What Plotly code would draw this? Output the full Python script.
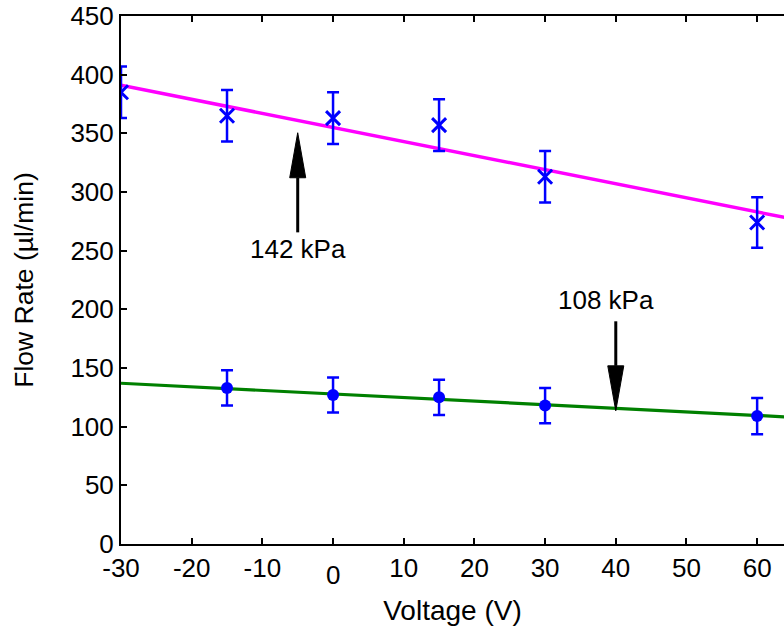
import plotly.graph_objects as go

# Measured flow rates at 142 kPa (crosses) and 108 kPa (dots)
voltage_high = [-30, -15, 0, 15, 30, 60]
flow_high = [385, 365, 363, 357, 313, 274]
err_high = [22, 22, 22, 22, 22, 21.5]

voltage_low = [-15, 0, 15, 30, 60]
flow_low = [133, 127, 125, 118, 109]
err_low = [15, 15, 15, 15, 15.5]

# Linear trend lines
fit_x = [-30, 70]
fit_high = [391, 271]
fit_low = [137, 106.5]

# Pressure callouts: arrow tip / tail and label
arrow_x = [-5, 40]
arrow_tip = [350.5, 113.5]
arrow_tail = [265.6, 189.8]
arrow_text = ["142 kPa", "108 kPa"]

x_ticks = [-30, -20, -10, 0, 10, 20, 30, 40, 50, 60]
y_ticks = [0, 50, 100, 150, 200, 250, 300, 350, 400, 450]

W, H = 784, 629
M = dict(l=121, r=0, t=16, b=85)
X_RANGE = [-30, 63.8]
Y_RANGE = [0, 450]
FONT = "Liberation Sans, Arial, sans-serif"

px_x = (W - M["l"] - M["r"]) / (X_RANGE[1] - X_RANGE[0])
px_y = (H - M["t"] - M["b"]) / (Y_RANGE[1] - Y_RANGE[0])

fig = go.Figure()

fig.add_trace(go.Scatter(x=fit_x, y=fit_high, mode="lines",
                         line=dict(color="#ff00ff", width=3.5), hoverinfo="skip"))
fig.add_trace(go.Scatter(x=fit_x, y=fit_low, mode="lines",
                         line=dict(color="#008000", width=3.2), hoverinfo="skip"))

fig.add_trace(go.Scatter(
    x=voltage_high, y=flow_high, mode="markers",
    marker=dict(symbol="x-thin-open", size=14, color="#0000ff",
                line=dict(color="#0000ff", width=3)),
    error_y=dict(type="data", array=err_high, color="#0000ff", thickness=2.5, width=6),
))
fig.add_trace(go.Scatter(
    x=voltage_low, y=flow_low, mode="markers",
    marker=dict(symbol="circle", size=12, color="#0000ff"),
    error_y=dict(type="data", array=err_low, color="#0000ff", thickness=2.5, width=6),
))

# Arrows: shaft plus an elongated filled head
head_len = 45 / px_y
head_half = 8 / px_x
for i in range(len(arrow_x)):
    ax, tip, tail = arrow_x[i], arrow_tip[i], arrow_tail[i]
    sgn = 1 if tip > tail else -1
    base = tip - sgn * head_len
    fig.add_trace(go.Scatter(x=[ax, ax], y=[tail, base], mode="lines",
                             line=dict(color="black", width=3), hoverinfo="skip"))
    fig.add_trace(go.Scatter(x=[ax - head_half, ax + head_half, ax, ax - head_half],
                             y=[base, base, tip, base], mode="lines", fill="toself",
                             fillcolor="black", line=dict(color="black", width=1),
                             hoverinfo="skip"))

fig.add_annotation(x=arrow_x[0], y=arrow_tail[0], text=arrow_text[0], showarrow=False,
                   yanchor="top", xanchor="center", yshift=0,
                   font=dict(family=FONT, size=26, color="black"))
fig.add_annotation(x=arrow_x[1], y=arrow_tail[1], text=arrow_text[1], showarrow=False,
                   yanchor="bottom", xanchor="center", yshift=4, xshift=-10,
                   font=dict(family=FONT, size=26, color="black"))

# the zero label on the voltage axis sits a little lower than the others
fig.add_annotation(x=0, y=0, text="0", showarrow=False, yref="y", xref="x",
                   yanchor="top", yshift=-14,
                   font=dict(family=FONT, size=26, color="black"))

fig.update_layout(
    width=W, height=H,
    margin=dict(**M, pad=0, autoexpand=False),
    plot_bgcolor="white", paper_bgcolor="white",
    showlegend=False,
    font=dict(family=FONT, size=26, color="black"),
    xaxis=dict(range=X_RANGE, tickvals=x_ticks,
               ticktext=[("" if v == 0 else str(v)) for v in x_ticks],
               ticks="inside", ticklen=6, tickwidth=2, tickcolor="black",
               showline=True, linewidth=2, linecolor="black", mirror="ticks",
               showgrid=False, zeroline=False,
               title=dict(text="Voltage (V)", standoff=18,
                          font=dict(family=FONT, size=28, color="black"))),
    yaxis=dict(range=Y_RANGE, tickvals=y_ticks,
               ticks="inside", ticklen=6, tickwidth=2, tickcolor="black",
               showline=True, linewidth=2, linecolor="black",
               showgrid=False, zeroline=False,
               title=dict(text="Flow Rate (µl/min)", standoff=29,
                          font=dict(family=FONT, size=26.5, color="black"))),
)

fig.write_html("out.html")
